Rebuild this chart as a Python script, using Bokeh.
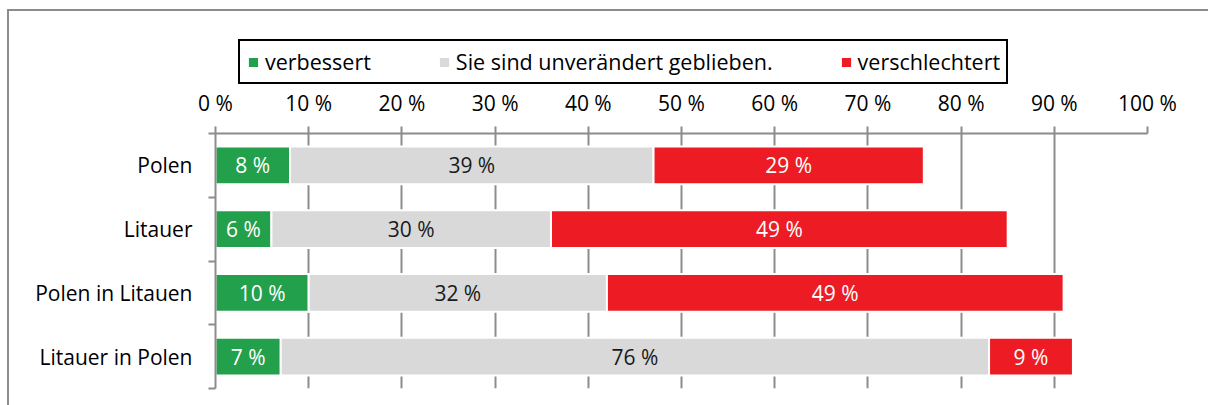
from bokeh.plotting import figure
from bokeh.layouts import column
from bokeh.models import (ColumnDataSource, Range1d, FixedTicker, Legend, LegendItem)
from bokeh.core.properties import value
from bokeh.embed import file_html
from bokeh.resources import INLINE

# ---------------- data ----------------
categories = ["Polen", "Litauer", "Polen in Litauen", "Litauer in Polen"]
verbessert = [8, 6, 10, 7]
unveraendert = [39, 30, 32, 76]
verschlechtert = [29, 49, 49, 9]
series_names = ["verbessert", "Sie sind unverändert geblieben.", "verschlechtert"]
x_ticks = [0, 10, 20, 30, 40, 50, 60, 70, 80, 90, 100]
x_tick_labels = ["0 %", "10 %", "20 %", "30 %", "40 %", "50 %",
                 "60 %", "70 %", "80 %", "90 %", "100 %"]

# ---------------- style ----------------
FONT = "Open Sans"
FS = "21px"
colors = ["#23A04B", "#D9D9D9", "#ED1C24"]
label_colors = ["#FFFFFF", "#1A1A1A", "#FFFFFF"]
GRAY = "#8C8C8C"

ys = list(range(len(categories)))
series = [verbessert, unveraendert, verschlechtert]
keys = ["s0", "s1", "s2"]
src = ColumnDataSource(dict(y=ys, s0=verbessert, s1=unveraendert, s2=verschlechtert))

# ---------------- legend strip ----------------
leg = figure(width=1199, height=74, output_backend="svg", toolbar_location=None,
             x_range=Range1d(0, 100), y_range=Range1d(0, 1),
             x_axis_type=None, y_axis_type=None,
             min_border=0, min_border_left=0, min_border_right=0,
             min_border_top=0, min_border_bottom=0)
leg.extra_y_ranges = {"off": Range1d(50, 60)}
leg.outline_line_color = None
leg.xgrid.visible = False
leg.ygrid.visible = False
leg.border_fill_color = "white"
leg.background_fill_color = "white"
leg_r = leg.hbar_stack(keys, y="y", height=0.59, color=colors, source=src,
                       line_color="white", line_width=2, y_range_name="off")
items = [LegendItem(label=n, renderers=[r]) for n, r in zip(series_names, leg_r)]
legend = Legend(items=items, orientation="horizontal", location=(23, 1),
                glyph_width=14, glyph_height=14, label_standoff=5, spacing=66,
                padding=6, margin=0, border_line_color="black",
                border_line_width=2, border_line_alpha=1,
                background_fill_color="white", background_fill_alpha=1,
                label_text_font=FONT, label_text_font_size="21.5px",
                label_text_color="black")
leg.add_layout(legend, "center")

# ---------------- main chart ----------------
p = figure(width=1199, height=320, output_backend="svg", toolbar_location=None,
           x_range=Range1d(0, 100), y_range=Range1d(3.5, -0.5),
           x_axis_location="above",
           min_border_left=206, min_border_right=61,
           min_border_top=46, min_border_bottom=17)
p.outline_line_color = None
p.background_fill_color = "white"
p.border_fill_color = "white"

p.hbar_stack(keys, y="y", height=0.59, color=colors, source=src,
             line_color="white", line_width=2)

# value labels inside the segments
lx, ly, lt, lc = [], [], [], []
for i in ys:
    left = 0
    for s, vals in enumerate(series):
        v = vals[i]
        lx.append(left + v / 2)
        ly.append(i)
        lt.append(f"{v} %")
        lc.append(label_colors[s])
        left += v
p.text(x="x", y="y", text="t", text_color="c",
       source=ColumnDataSource(dict(x=lx, y=ly, t=lt, c=lc)),
       text_align="center", text_baseline="middle",
       text_font=value(FONT), text_font_size=FS)

# grid
p.xgrid.ticker = FixedTicker(ticks=x_ticks)
p.xgrid.grid_line_color = GRAY
p.xgrid.grid_line_width = 2
p.ygrid.visible = False

# x axis (top)
xa = p.xaxis[0]
xa.ticker = FixedTicker(ticks=x_ticks)
xa.major_label_overrides = {t: l for t, l in zip(x_ticks, x_tick_labels)}
xa.axis_line_color = GRAY
xa.axis_line_width = 2
xa.major_tick_line_color = GRAY
xa.major_tick_line_width = 2
xa.major_tick_out = 7
xa.major_tick_in = 0
xa.minor_tick_line_color = None
xa.major_label_standoff = 10
xa.major_label_text_font = FONT
xa.major_label_text_font_size = FS
xa.major_label_text_color = "black"

# y axis (left)
ya = p.yaxis[0]
ya.ticker = FixedTicker(ticks=ys, minor_ticks=[-0.5, 0.5, 1.5, 2.5, 3.5])
ya.major_label_overrides = {i: c for i, c in zip(ys, categories)}
ya.axis_line_color = GRAY
ya.axis_line_width = 2
ya.major_tick_line_color = None
ya.major_tick_out = 0
ya.major_tick_in = 0
ya.minor_tick_line_color = GRAY
ya.minor_tick_line_width = 2
ya.minor_tick_out = 7
ya.minor_tick_in = 0
ya.major_label_standoff = 16
ya.major_label_text_font = FONT
ya.major_label_text_font_size = FS
ya.major_label_text_color = "black"

layout = column(leg, p, spacing=0,
                styles={"border-left": f"2px solid {GRAY}",
                        "border-top": f"2px solid {GRAY}",
                        "margin-left": "7px", "margin-top": "9px"})

open("out.html", "w", encoding="utf-8").write(file_html(layout, INLINE))
